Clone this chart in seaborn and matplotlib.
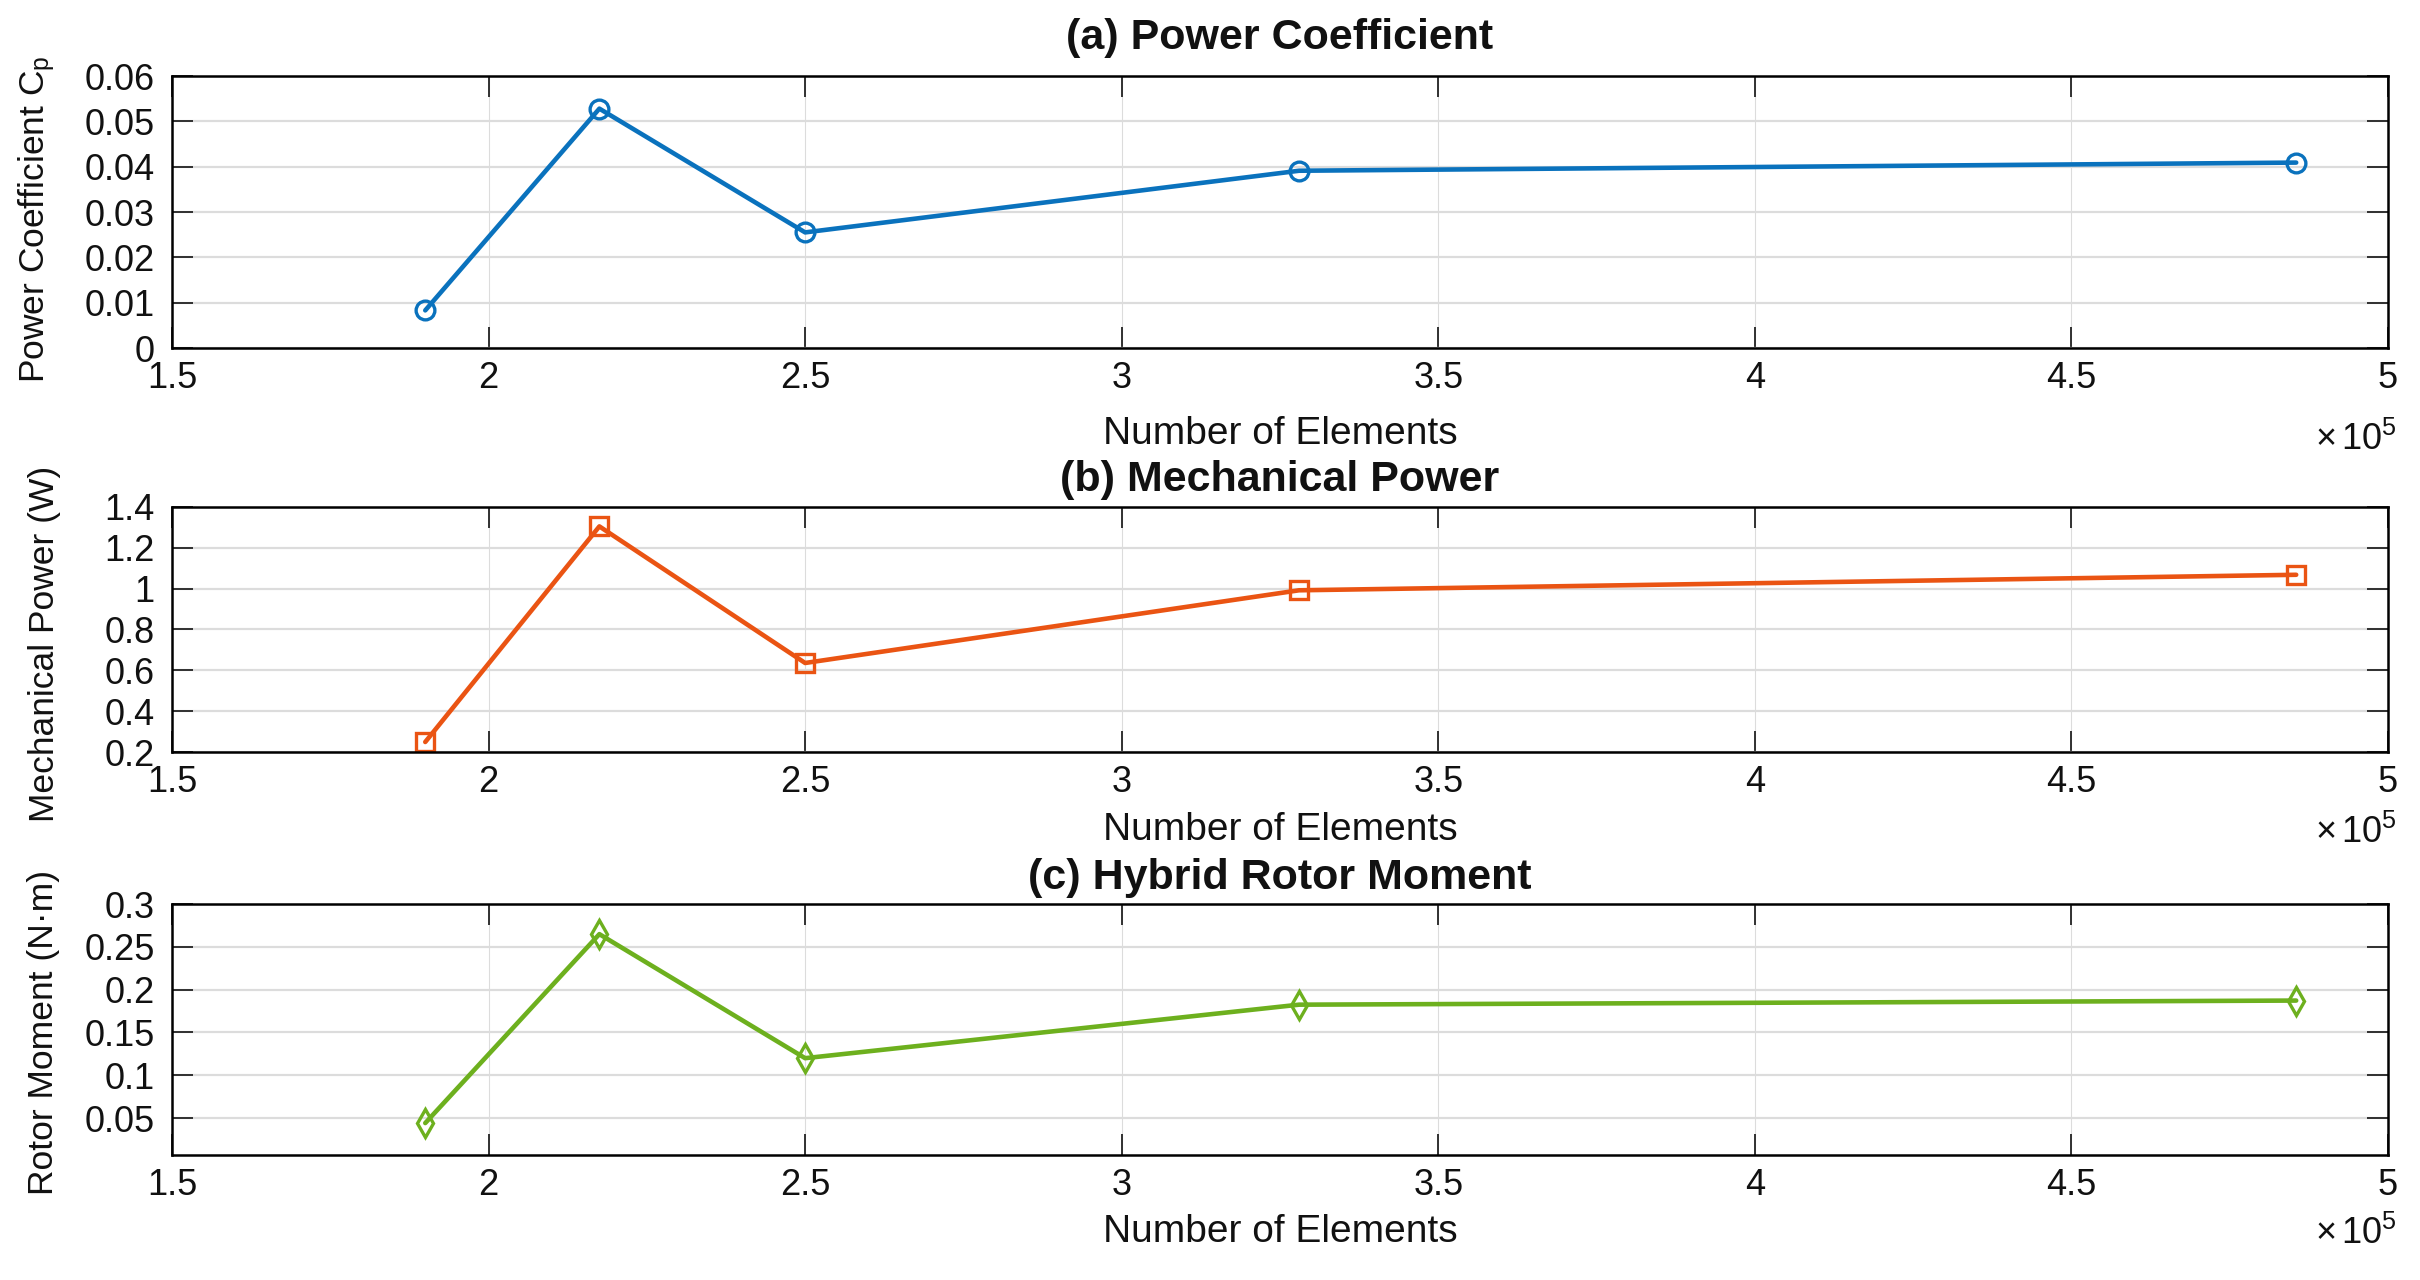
import seaborn as sns
import matplotlib.pyplot as plt
from matplotlib.ticker import FuncFormatter

# mesh study values
elements = [1.90e5, 2.175e5, 2.50e5, 3.28e5, 4.855e5]
power_coeff = [0.0083, 0.0528, 0.0255, 0.0391, 0.0409]
mech_power = [0.249, 1.305, 0.636, 0.992, 1.068]
rotor_moment = [0.0441, 0.2648, 0.1199, 0.1824, 0.1872]

titles = ['(a) Power Coefficient', '(b) Mechanical Power', '(c) Hybrid Rotor Moment']
ylabels = [r'Power Coefficient C$_\mathrm{p}$', 'Mechanical Power (W)', 'Rotor Moment (N·m)']
xlabel = 'Number of Elements'
x_ticks = [1.5e5, 2.0e5, 2.5e5, 3.0e5, 3.5e5, 4.0e5, 4.5e5, 5.0e5]
y_ticks = [
    [0, 0.01, 0.02, 0.03, 0.04, 0.05, 0.06],
    [0.2, 0.4, 0.6, 0.8, 1.0, 1.2, 1.4],
    [0.05, 0.1, 0.15, 0.2, 0.25, 0.3],
]
y_limits = [(0, 0.06), (0.2, 1.4), (0.0068, 0.3)]


def main():
    sns.set_theme(style="whitegrid")
    plt.rcParams['font.family'] = ['Liberation Sans', 'DejaVu Sans']
    plt.rcParams['mathtext.fontset'] = 'custom'
    plt.rcParams['mathtext.rm'] = 'Liberation Sans'
    plt.rcParams['mathtext.it'] = 'Liberation Sans:italic'

    W, H = 2420, 1280
    fig = plt.figure(figsize=(W / 100, H / 100), dpi=100)
    fig.patch.set_facecolor('white')

    # pixel boxes (left, top, right, bottom) of the three panels
    boxes = [(172, 76, 2388, 348), (172, 507, 2388, 752), (172, 904, 2388, 1155)]
    series = [power_coeff, mech_power, rotor_moment]
    colors = ['#0A72BD', '#EA5413', '#6DB01E']
    markers = ['o', 's', 'd']
    msizes = [13.5, 13.5, 14]
    title_pads = [27.4, 19.4, 18.7]
    xlabel_off = [86, 78, 77]
    mult_off = [92, 81, 79]
    ylabel_x = [37, 45, 44]
    ylabel_y = [219, 644, 1032]

    for i in range(3):
        l, t, r, b = boxes[i]
        ax = fig.add_axes([l / W, 1 - b / H, (r - l) / W, (b - t) / H])
        ax.set_facecolor('white')
        hpx = b - t

        sns.lineplot(x=elements, y=series[i], ax=ax, color=colors[i], linewidth=3.3,
                     marker=markers[i], markersize=msizes[i], markerfacecolor='none',
                     markeredgecolor=colors[i], markeredgewidth=2.4)

        ax.set_xlim(1.5e5, 5.0e5)
        ax.set_ylim(*y_limits[i])
        ax.set_xticks(x_ticks)
        ax.set_yticks(y_ticks[i])
        ax.xaxis.set_major_formatter(FuncFormatter(lambda v, p: f'{v / 1e5:g}'))
        ax.yaxis.set_major_formatter(FuncFormatter(lambda v, p: f'{v:g}'))

        ax.grid(True, axis='x', color='#DCDCDC', linewidth=0.8)
        ax.grid(True, axis='y', color='#DCDCDC', linewidth=1.6)
        for s in ax.spines.values():
            s.set_visible(True)
            s.set_color('black')
            s.set_linewidth(1.8)

        ax.tick_params(axis='both', direction='in', length=15, width=1.3, color='#222222',
                       top=True, right=True, bottom=True, left=True, labelsize=26,
                       labelcolor='#111111')
        ax.tick_params(axis='x', pad=9.5)
        ax.tick_params(axis='y', pad=12.5)

        ax.set_title(titles[i], fontsize=31, fontweight='bold', y=1.0,
                     pad=title_pads[i], va='center', color='#111111')

        ax.set_xlabel(xlabel, fontsize=28, color='#111111')
        ax.xaxis.set_label_coords(0.5, -xlabel_off[i] / hpx)
        ax.xaxis.label.set_va('center')

        ax.set_ylabel(ylabels[i], fontsize=25.5, color='#111111')
        ax.yaxis.set_label_coords((ylabel_x[i] - l) / (r - l), (b - ylabel_y[i]) / hpx)
        ax.yaxis.label.set_va('center')

        ax.text(1.004, -mult_off[i] / hpx, r'$\times\,10^{5}$', transform=ax.transAxes,
                ha='right', va='center', fontsize=26, color='#111111')

    fig.savefig('out.png', dpi=100, facecolor='white')


if __name__ == "__main__":
    main()
